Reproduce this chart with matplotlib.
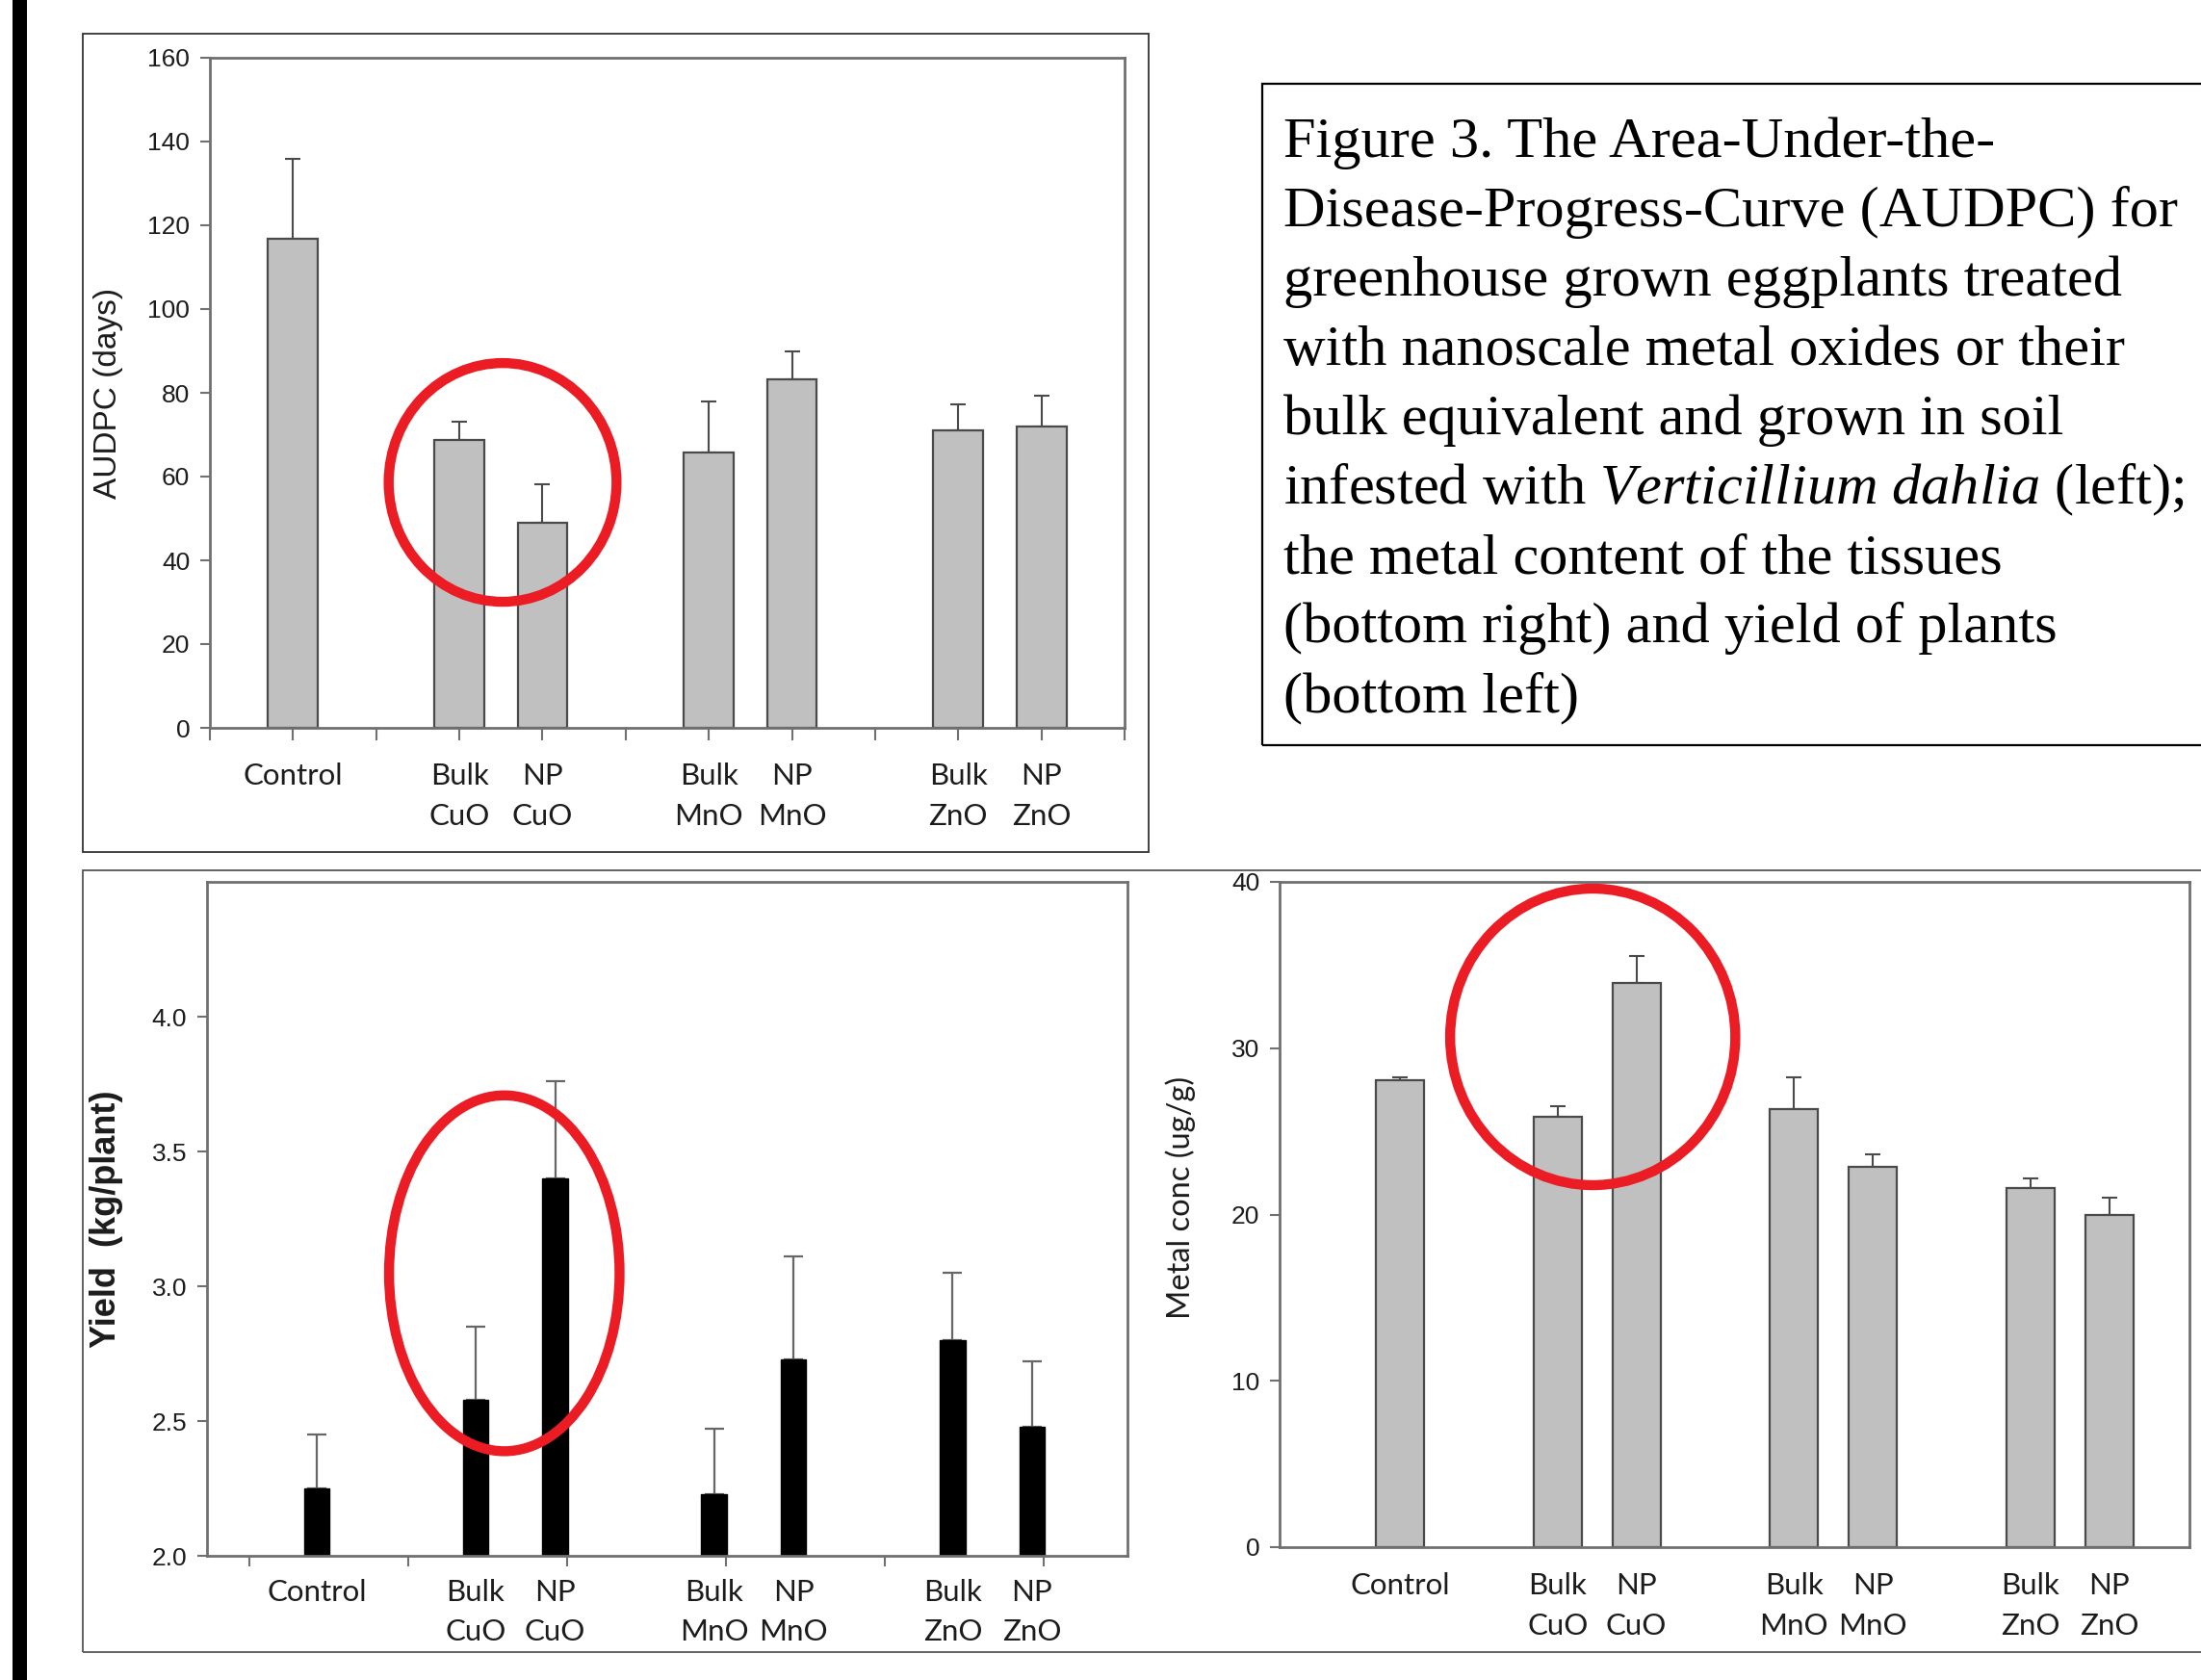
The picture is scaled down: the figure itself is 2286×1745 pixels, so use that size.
import matplotlib
matplotlib.use('Agg')
import matplotlib.pyplot as plt
from matplotlib.patches import Rectangle, Ellipse
import numpy as np

plt.rcParams['font.family'] = ['Liberation Sans', 'DejaVu Sans']
plt.rcParams['mathtext.fontset'] = 'custom'
plt.rcParams['mathtext.rm'] = 'Liberation Serif'
plt.rcParams['mathtext.it'] = 'Liberation Serif:italic'

W, H = 2286, 1745

# treatments, same order in all three panels
categories = ['Control', 'Bulk\nCuO', 'NP\nCuO', 'Bulk\nMnO', 'NP\nMnO', 'Bulk\nZnO', 'NP\nZnO']
bar_pos = [1, 3, 4, 6, 7, 9, 10]
group_ticks = [0, 2, 5, 8, 11]

# AUDPC (days), top left
audpc = [116.7, 68.7, 49.0, 65.8, 83.2, 71.0, 71.9]
audpc_err = [19.1, 4.3, 9.2, 12.2, 6.7, 6.3, 7.4]

# yield (kg/plant), bottom left
yield_kg = [2.25, 2.58, 3.40, 2.23, 2.73, 2.80, 2.48]
yield_err = [0.20, 0.27, 0.36, 0.24, 0.38, 0.25, 0.24]
yield_ticks = [0.15, 2.15, 4.15, 6.15, 8.15, 10.15]

# metal concentration (ug/g), bottom right
metal = [28.08, 25.88, 33.93, 26.36, 22.89, 21.59, 19.97]
metal_err = [0.15, 0.64, 1.62, 1.87, 0.70, 0.57, 1.02]

caption = [
    'Figure 3. The Area-Under-the-',
    'Disease-Progress-Curve (AUDPC) for',
    'greenhouse grown eggplants treated',
    'with nanoscale metal oxides or their',
    'bulk equivalent and grown in soil',
    r'infested with $\mathit{Verticillium\ dahlia}$ (left);',
    'the metal content of the tissues',
    '(bottom right) and yield of plants',
    '(bottom left)',
]

RED = '#ec1c24'
SPINE = '#707070'
EDGE = '#4a4a4a'
TXT = '#1c1c1c'

fig = plt.figure(figsize=(W / 100, H / 100), dpi=100)


def px_axes(l, t, r, b):
    return fig.add_axes([l / W, 1 - b / H, (r - l) / W, (b - t) / H])


def px_rect(l, t, r, b, **kw):
    fig.add_artist(Rectangle((l / W, 1 - b / H), (r - l) / W, (b - t) / H,
                             transform=fig.transFigure, **kw))


def style(ax, ylabel, yfont, ysize, lx, ly, yweight='normal'):
    for s in ax.spines.values():
        s.set_color(SPINE)
        s.set_linewidth(2)
    ax.tick_params(axis='y', direction='out', length=7, width=1.5, color=SPINE,
                   pad=8, labelsize=19, labelcolor=TXT)
    ax.set_xticks(bar_pos)
    ax.set_xticklabels(categories, fontfamily='Lato', fontsize=22.5, color=TXT,
                       linespacing=1.6, va='top')
    ax.set_ylabel(ylabel, fontfamily=yfont, fontsize=ysize, fontweight=yweight, color=TXT)
    ax.yaxis.set_label_coords(lx, ly)


# left black bar and panel frames
px_rect(13, 0, 28, H, facecolor='black', edgecolor='none')
px_rect(86, 35, 1193, 885, fill=False, edgecolor='#333333', linewidth=1.3)
px_rect(86, 904, 2400, 1716, fill=False, edgecolor='#555555', linewidth=1.3)
px_rect(1311, 87, 2400, 774, fill=False, edgecolor='black', linewidth=1.6)

# caption
for i, line in enumerate(caption):
    fig.text(1333 / W, 1 - (163 + 72 * i) / H, line, fontsize=43.5,
             fontfamily='Liberation Serif', va='baseline', ha='left')

# --- AUDPC panel
ax1 = px_axes(218, 60, 1168, 756)
ax1.bar(bar_pos, audpc, width=0.6, color='#c0c0c0', edgecolor=EDGE, linewidth=1.6, zorder=2)
ax1.errorbar(bar_pos, audpc, yerr=[np.zeros(len(audpc)), audpc_err], fmt='none',
             ecolor=EDGE, elinewidth=1.5, capsize=6, capthick=1.5, zorder=1)
ax1.set_xlim(0, 11)
ax1.set_ylim(0, 160)
ax1.set_yticks(np.arange(0, 161, 20))
style(ax1, 'AUDPC (days)', 'Liberation Sans', 24, -0.095, 0.5)
ax1.set_xticks(group_ticks, minor=True)
ax1.tick_params(axis='x', which='both', direction='out', length=9, width=1.5,
                color=SPINE, pad=17)
ax1.add_patch(Ellipse((3.52, 58.6), 2.74, 57.0, fill=False, edgecolor=RED,
                      linewidth=7.5, clip_on=False, zorder=5))

# --- yield panel
ax2 = px_axes(215, 916, 1171, 1616)
ax2.bar(bar_pos, yield_kg, width=0.32, color='black', edgecolor='black', zorder=2)
ax2.errorbar(bar_pos, yield_kg, yerr=[np.zeros(len(yield_kg)), yield_err], fmt='none',
             ecolor='#666666', elinewidth=1.6, capsize=7, capthick=1.6, zorder=1)
ax2.set_xlim(-0.38, 11.2)
ax2.set_ylim(2.0, 4.5)
ax2.set_yticks(np.arange(2.0, 4.01, 0.5))
ax2.set_yticklabels(['%.1f' % v for v in np.arange(2.0, 4.01, 0.5)])
style(ax2, 'Yield  (kg/plant)', 'Liberation Sans', 26, -0.091, 0.50, yweight='bold')
ax2.set_xticks(yield_ticks, minor=True)
ax2.tick_params(axis='x', which='major', length=0, pad=17)
ax2.tick_params(axis='x', which='minor', direction='out', length=8, width=1.5, color=SPINE)
ax2.add_patch(Ellipse((3.36, 3.048), 2.90, 1.32, fill=False, edgecolor=RED,
                      linewidth=7.5, clip_on=False, zorder=5))

# --- metal content panel
ax3 = px_axes(1329, 916, 2274, 1607)
ax3.bar(bar_pos, metal, width=0.61, color='#c0c0c0', edgecolor=EDGE, linewidth=1.6, zorder=2)
ax3.errorbar(bar_pos, metal, yerr=[np.zeros(len(metal)), metal_err], fmt='none',
             ecolor=EDGE, elinewidth=1.5, capsize=6, capthick=1.5, zorder=1)
ax3.set_xlim(-0.53, 11.02)
ax3.set_ylim(0, 40)
ax3.set_yticks(np.arange(0, 41, 10))
style(ax3, 'Metal conc (ug/g)', 'Lato', 23.5, -0.092, 0.525)
ax3.tick_params(axis='x', length=0, pad=19)
ax3.add_patch(Ellipse((3.445, 30.68), 3.62, 17.83, fill=False, edgecolor=RED,
                      linewidth=7.5, clip_on=False, zorder=5))

fig.savefig('out.png', dpi=100)
